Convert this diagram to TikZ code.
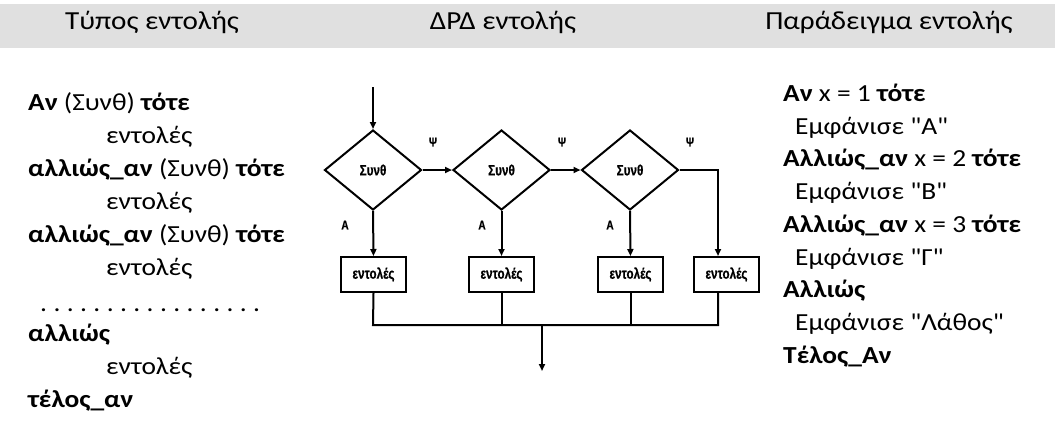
\documentclass[tikz,border=0pt]{standalone}
\usepackage{fontspec}
\setmainfont[FakeStretch=1.12,Ligatures=TeXOff]{Carlito}
\newfontfamily\flowfont[FakeStretch=0.78,FakeBold=0.6,BoldFont={* Bold},BoldFeatures={FakeBold=0.6}]{Liberation Sans}
\usetikzlibrary{shapes.geometric,arrows.meta,calc}
\newcommand{\dt}{.\kern6.4pt}
\begin{document}
\begin{tikzpicture}[x=1pt,y=-1pt,
  txt/.style={anchor=base west,inner sep=0pt,font=\fontsize{24.5}{28}\selectfont},
  hdr/.style={anchor=base,inner sep=0pt,font=\fontsize{26}{30}\selectfont},
  cond/.style={draw,shape=diamond,minimum width=97pt,minimum height=80pt,inner sep=0pt,line width=2pt,font=\flowfont\bfseries\fontsize{15}{17}\selectfont},
  cmd/.style={draw,rectangle,minimum width=65pt,minimum height=35pt,inner sep=0pt,line width=2pt,font=\flowfont\bfseries\fontsize{15}{17}\selectfont},
  lbl/.style={inner sep=0pt,font=\flowfont\bfseries\fontsize{13}{15}\selectfont},
  conn/.style={line width=2pt},
  arr/.style={line width=2pt,-{Triangle[length=7pt,width=6pt]}}]
\useasboundingbox (0,0) rectangle (1055,432);
\fill[fill={rgb,255:red,224;green,224;blue,224}] (0,4) rectangle (1055,48);
\node[hdr] (h1) at (152,29) {Τύπος εντολής};
\node[hdr] (h2) at (503,29) {ΔΡΔ εντολής};
\node[hdr] (h3) at (889,29) {Παράδειγμα εντολής};
% left column
\node[txt] (l1) at (28,110) {\textbf{Αν} (Συνθ) \textbf{τότε}};
\node[txt] (l2) at (106,143) {εντολές};
\node[txt] (l3) at (28,176) {\textbf{αλλιώς\_αν} (Συνθ) \textbf{τότε}};
\node[txt] (l4) at (106,209) {εντολές};
\node[txt] (l5) at (28,242) {\textbf{αλλιώς\_αν} (Συνθ) \textbf{τότε}};
\node[txt] (l6) at (106,275) {εντολές};
\node[txt] (l7) at (40,311) {\dt\dt\dt\dt\dt\dt\dt\dt\dt\dt\dt\dt\dt\dt\dt\dt.};
\node[txt] (l8) at (28,341) {\textbf{αλλιώς}};
\node[txt] (l9) at (106,374) {εντολές};
\node[txt] (l10) at (28,407) {\textbf{τέλος\_αν}};
% right column
\node[txt] (r1) at (783,101) {\textbf{Αν} x = 1 \textbf{τότε}};
\node[txt] (r2) at (795,134) {Εμφάνισε "Α"};
\node[txt] (r3) at (783,166) {\textbf{Αλλιώς\_αν} x = 2 \textbf{τότε}};
\node[txt] (r4) at (795,199) {Εμφάνισε "Β"};
\node[txt] (r5) at (783,232) {\textbf{Αλλιώς\_αν} x = 3 \textbf{τότε}};
\node[txt] (r6) at (795,265) {Εμφάνισε "Γ"};
\node[txt] (r7) at (783,297) {\textbf{Αλλιώς}};
\node[txt] (r8) at (795,330) {Εμφάνισε "Λάθος"};
\node[txt] (r9) at (783,363) {\textbf{Τέλος\_Αν}};
% flowchart
\coordinate (in) at (373,87);
\node[cond] (d1) at (373,170) {Συνθ};
\node[cond] (d2) at (501.5,170) {Συνθ};
\node[cond] (d3) at (630,170) {Συνθ};
\node[cmd] (b1) at (373.5,274.5) {εντολές};
\node[cmd] (b2) at (501.5,274.5) {εντολές};
\node[cmd] (b3) at (630.5,274.5) {εντολές};
\node[cmd] (b4) at (726.5,274.5) {εντολές};
\coordinate (j4) at (718,325);
\coordinate (j1) at (373,325);
\coordinate (m) at (542,325);
\coordinate (out) at (542,371);
\node[lbl] (y1) at (433,142) {Ψ};
\node[lbl] (y2) at (562,142) {Ψ};
\node[lbl] (y3) at (690,142) {Ψ};
\node[lbl] (a1) at (345,225) {Α};
\node[lbl] (a2) at (482,225) {Α};
\node[lbl] (a3) at (610,225) {Α};
\draw[arr] (in) -- (d1.north);
\draw[arr] (d1.east) -- (d2.west);
\draw[arr] (d2.east) -- (d3.west);
\draw[arr] (d3.east) -| ([xshift=-8.5pt]b4.north);
\draw[arr] (d1.south) -- (b1.north);
\draw[arr] (d2.south) -- (b2.north);
\draw[arr] (d3.south) -- (b3.north);
\draw[conn] (b1.south) -- (j1) -- (j4) -- ([xshift=-8.5pt]b4.south);
\draw[conn] (b2.south) -- (b2.south |- j1);
\draw[conn] (b3.south) -- (b3.south |- j1);
\draw[arr] (m) -- (out);
\end{tikzpicture}
\end{document}
